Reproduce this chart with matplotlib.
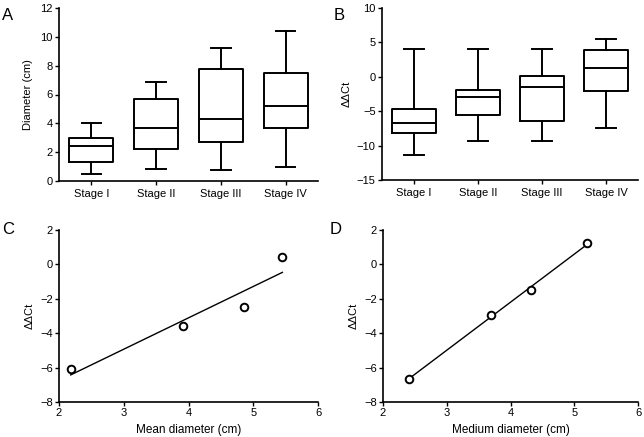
import matplotlib
matplotlib.use("Agg")
import matplotlib.pyplot as plt
import numpy as np

plt.rcParams['font.family'] = ['Liberation Sans', 'DejaVu Sans']

stages = ["Stage I", "Stage II", "Stage III", "Stage IV"]

# Panel A: diameter box stats (whislo, q1, med, q3, whishi)
a_whislo = [0.5, 0.8, 0.75, 1.0]
a_q1 = [1.35, 2.2, 2.7, 3.65]
a_med = [2.4, 3.7, 4.3, 5.2]
a_q3 = [3.0, 5.7, 7.75, 7.5]
a_whishi = [4.0, 6.9, 9.25, 10.4]

# Panel B: ddCt box stats
b_whislo = [-11.3, -9.3, -9.4, -7.4]
b_q1 = [-8.1, -5.5, -6.4, -2.1]
b_med = [-6.7, -3.0, -1.5, 1.3]
b_q3 = [-4.7, -1.9, 0.1, 3.9]
b_whishi = [4.1, 4.0, 4.0, 5.5]

# Panel C: mean diameter vs ddCt
c_x = [2.18, 3.92, 4.85, 5.45]
c_y = [-6.1, -3.6, -2.45, 0.45]

# Panel D: median diameter vs ddCt
d_x = [2.4, 3.7, 4.32, 5.2]
d_y = [-6.65, -2.95, -1.5, 1.25]

W, H = 644, 437
fig = plt.figure(figsize=(W / 100, H / 100), dpi=100)

def ax_at(l, t, r, b):
    return fig.add_axes([l / W, 1 - b / H, (r - l) / W, (b - t) / H])

def style(ax):
    for s in ["top", "right"]:
        ax.spines[s].set_visible(False)
    for s in ["left", "bottom"]:
        ax.spines[s].set_linewidth(1.2)
    ax.tick_params(direction="out", length=3, width=1.0, labelsize=8, pad=1.5)

def boxes(ax, lo, q1, med, q3, hi):
    stats = []
    for i in range(len(stages)):
        stats.append(dict(whislo=lo[i], q1=q1[i], med=med[i], q3=q3[i], whishi=hi[i], fliers=[], label=stages[i]))
    ax.bxp(stats, positions=np.arange(1, len(stages) + 1), widths=0.68, showfliers=False,
           boxprops=dict(color="black", linewidth=1.4),
           medianprops=dict(color="black", linewidth=1.4),
           whiskerprops=dict(color="black", linewidth=1.4),
           capprops=dict(color="black", linewidth=1.4),
           capwidths=0.3)
    ax.set_xlim(0.5, 4.5)

axA = ax_at(59, 8, 318, 181)
boxes(axA, a_whislo, a_q1, a_med, a_q3, a_whishi)
axA.set_ylim(0, 12)
axA.set_yticks([0, 2, 4, 6, 8, 10, 12])
axA.set_ylabel("Diameter (cm)", fontsize=8, labelpad=5)
style(axA)
axA.tick_params(axis="x", labelsize=8, pad=2.5)

axB = ax_at(382, 8, 638, 180)
boxes(axB, b_whislo, b_q1, b_med, b_q3, b_whishi)
axB.set_ylim(-15, 10)
axB.set_yticks([-15, -10, -5, 0, 5, 10])
axB.set_yticklabels(["\u221215", "\u221210", "\u22125", "0", "5", "10"])
axB.set_ylabel("\u0394\u0394Ct", fontsize=8, labelpad=4)
style(axB)
axB.tick_params(axis="x", labelsize=8, pad=2.5)

def scatter_fit(ax, x, y, xlabel):
    x = np.array(x); y = np.array(y)
    k, c = np.polyfit(x, y, 1)
    xs = np.array([x.min(), x.max()])
    ax.plot(xs, k * xs + c, color="black", linewidth=1.0)
    ax.scatter(x, y, s=30, facecolors="white", edgecolors="black", linewidths=1.4, zorder=3)
    ax.set_xlim(2, 6)
    ax.set_ylim(-8, 2)
    ax.set_xticks([2, 3, 4, 5, 6])
    ax.set_yticks([-8, -6, -4, -2, 0, 2])
    ax.set_yticklabels(["\u22128", "\u22126", "\u22124", "\u22122", "0", "2"])
    ax.set_xlabel(xlabel, fontsize=8.5, labelpad=4)
    ax.set_ylabel("\u0394\u0394Ct", fontsize=8, labelpad=4)
    style(ax)

axC = ax_at(59, 230, 318, 402)
scatter_fit(axC, c_x, c_y, "Mean diameter (cm)")

axD = ax_at(383, 230, 638, 402)
scatter_fit(axD, d_x, d_y, "Medium diameter (cm)")

for lbl, x, y in [("A", 2, 16), ("B", 334, 16), ("C", 2, 230), ("D", 330, 230)]:
    fig.text(x / W, 1 - y / H, lbl, fontsize=12, va="center", ha="left")

fig.savefig("out.png", dpi=100)
